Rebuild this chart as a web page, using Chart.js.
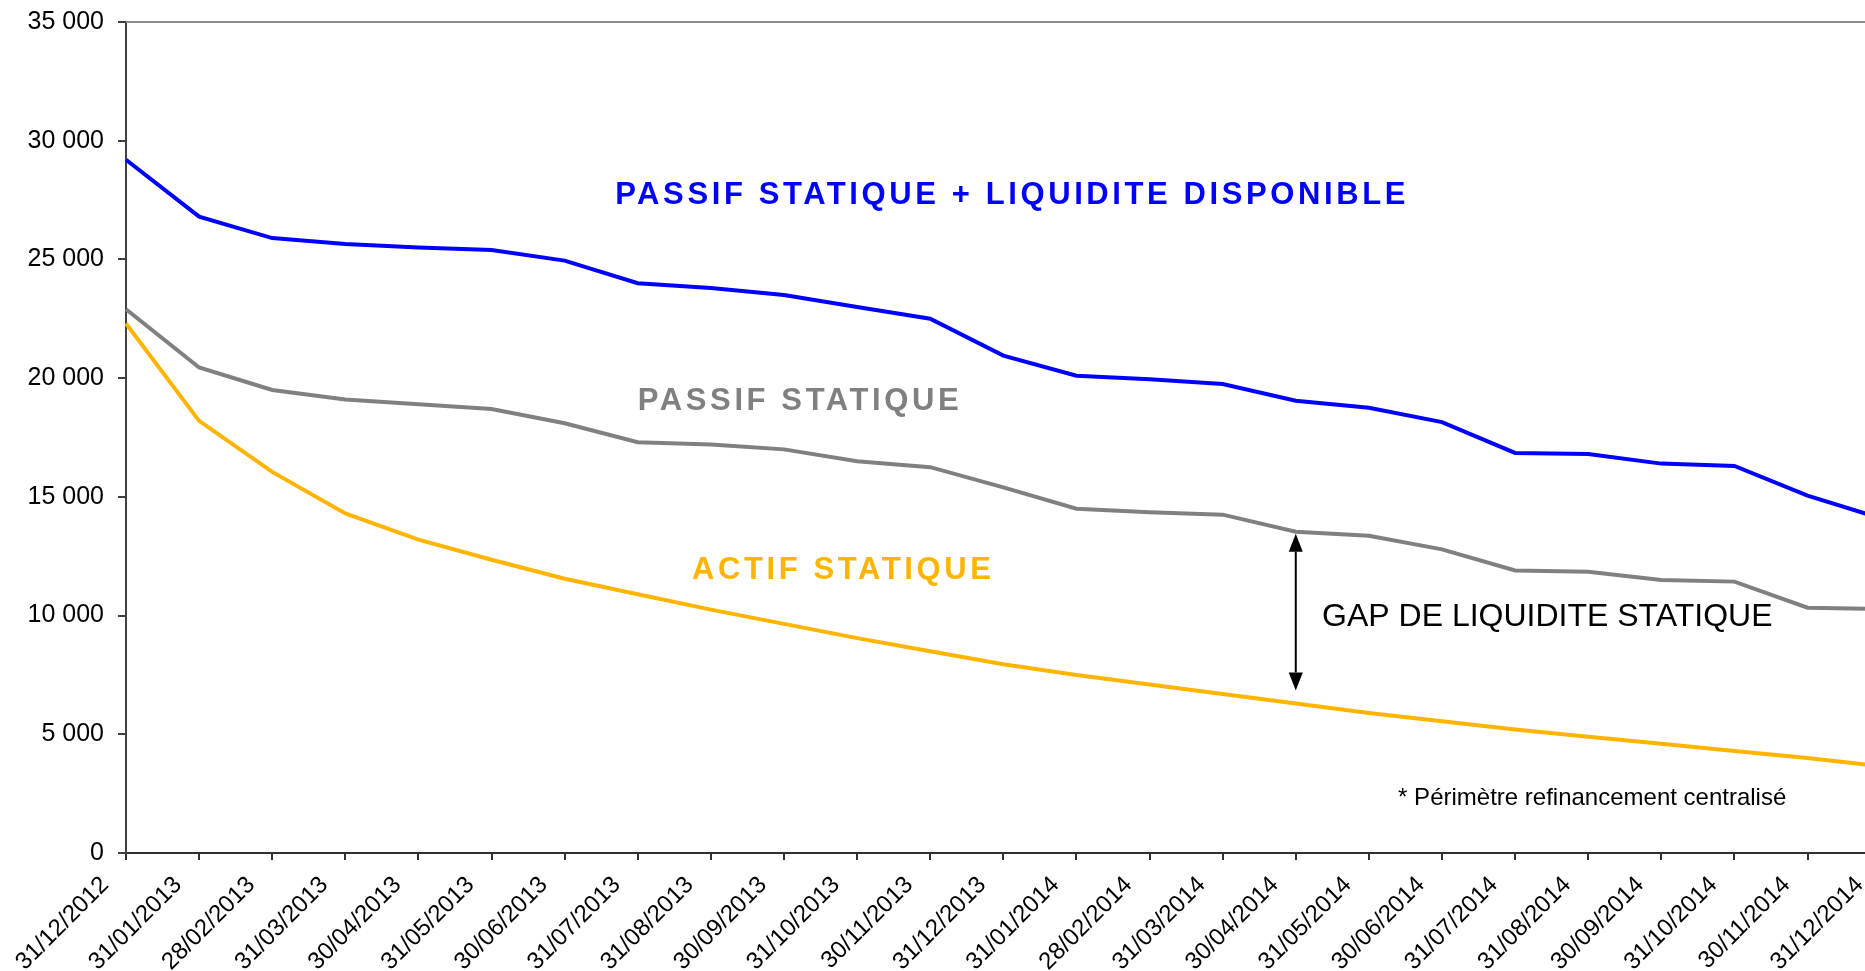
<!DOCTYPE html>
<html lang="fr">
<head>
<meta charset="utf-8">
<title>Gap de liquidité statique</title>
<script src="https://cdn.jsdelivr.net/npm/chart.js@4/dist/chart.umd.min.js"></script>
<style>
  html, body { margin: 0; padding: 0; background: #fff; overflow: hidden; }
  #wrap { position: relative; width: 1912px; height: 971px; }
</style>
</head>
<body>
<div id="wrap"><canvas id="gapChart"></canvas></div>
<script>
// Data
const dates = [
  "31/12/2012", "31/01/2013", "28/02/2013", "31/03/2013", "30/04/2013", "31/05/2013",
  "30/06/2013", "31/07/2013", "31/08/2013", "30/09/2013", "31/10/2013", "30/11/2013",
  "31/12/2013", "31/01/2014", "28/02/2014", "31/03/2014", "30/04/2014", "31/05/2014",
  "30/06/2014", "31/07/2014", "31/08/2014", "30/09/2014", "31/10/2014", "30/11/2014",
  "31/12/2014",
]

const passifLiquidite = [
  29200, 26800, 25900, 25650, 25500, 25400, 24950, 24000, 23800, 23500, 23000, 22500,
  20950, 20100, 19950, 19750, 19050, 18750, 18150, 16850, 16800, 16400, 16300, 15050, 14100,
]

const passifStatique = [
  22900, 20450, 19500, 19100, 18900, 18700, 18100, 17300, 17200, 17000, 16500, 16250,
  15400, 14500, 14350, 14250, 13530, 13360, 12790, 11900, 11850, 11500, 11430, 10330, 10280,
]

const actifStatique = [
  22300, 18200, 16050, 14300, 13200, 12350, 11550, 10900, 10250, 9650, 9050, 8500,
  7950, 7500, 7100, 6700, 6300, 5900, 5550, 5200, 4900, 4600, 4300, 4000, 3650,
]

const yTicks = [0, 5000, 10000, 15000, 20000, 25000, 30000, 35000]

const BLUE = "#0000ff"
const GREY = "#808080"
const ORANGE = "#ffb400"
const FONT = '"Liberation Sans", Arial, sans-serif'

// "35 000" style
function formatMilliers(v) {
  return String(v).replace(/\B(?=(\d{3})+(?!\d))/g, " ")
}

// Text labels placed in data space (category index, value)
const etiquettes = [
  { text: "PASSIF STATIQUE + LIQUIDITE DISPONIBLE", x: 12.12, y: 27700, color: BLUE, bold: true, align: "center" },
  { text: "PASSIF STATIQUE", x: 9.22, y: 19000, color: GREY, bold: true, align: "center" },
  { text: "ACTIF STATIQUE", x: 9.81, y: 11880, color: ORANGE, bold: true, align: "center" },
  { text: "GAP DE LIQUIDITE STATIQUE", x: 16.36, y: 9940, color: "#000", bold: false, align: "left", size: 32 },
  { text: "* Périmètre refinancement centralisé", x: 17.4, y: 2320, color: "#000", bold: false, align: "left", size: 24 },
]

// Top frame line, labels and the gap arrow
const decorPlugin = {
  id: "decor",
  afterDatasetsDraw(chart) {
    const { ctx, chartArea } = chart
    const xs = chart.scales.x
    const ys = chart.scales.y

    ctx.save()
    ctx.strokeStyle = "#8c8c8c"
    ctx.lineWidth = 2
    ctx.beginPath()
    ctx.moveTo(chartArea.left, chartArea.top)
    ctx.lineTo(chartArea.right + 30, chartArea.top)
    ctx.stroke()

    etiquettes.forEach((e) => {
      ctx.font = (e.bold ? "bold " : "") + (e.size || 31) + "px " + FONT
      ctx.letterSpacing = e.bold ? "3.6px" : "0px"
      ctx.fillStyle = e.color
      ctx.textAlign = e.align
      ctx.textBaseline = "middle"
      ctx.fillText(e.text, xs.getPixelForValue(e.x), ys.getPixelForValue(e.y))
    })

    // double arrow between passif and actif at 30/04/2014
    const i = 16
    const ax = xs.getPixelForValue(i)
    const top = ys.getPixelForValue(passifStatique[i]) + 2
    const bottom = ys.getPixelForValue(actifStatique[i]) - 13
    const head = 18
    const half = 7
    ctx.strokeStyle = "#000"
    ctx.fillStyle = "#000"
    ctx.lineWidth = 2
    ctx.beginPath()
    ctx.moveTo(ax, top + head)
    ctx.lineTo(ax, bottom - head)
    ctx.stroke()
    ctx.beginPath()
    ctx.moveTo(ax, top)
    ctx.lineTo(ax - half, top + head)
    ctx.lineTo(ax + half, top + head)
    ctx.closePath()
    ctx.fill()
    ctx.beginPath()
    ctx.moveTo(ax, bottom)
    ctx.lineTo(ax - half, bottom - head)
    ctx.lineTo(ax + half, bottom - head)
    ctx.closePath()
    ctx.fill()
    ctx.restore()
  },
}

function serie(data, color) {
  return {
    data: data,
    borderColor: color,
    backgroundColor: color,
    borderWidth: 4,
    pointRadius: 0,
    tension: 0,
    fill: false,
  }
}

document.addEventListener("DOMContentLoaded", () => {
  const ctx = document.getElementById("gapChart")
  new Chart(ctx, {
    type: "line",
    data: {
      labels: dates,
      datasets: [
        serie(passifLiquidite, BLUE),
        serie(passifStatique, GREY),
        serie(actifStatique, ORANGE),
      ],
    },
    options: {
      responsive: true,
      maintainAspectRatio: false,
      animation: false,
      events: [],
      layout: { padding: { top: 22, right: 21, left: 0, bottom: 0 } },
      plugins: {
        legend: { display: false },
        tooltip: { enabled: false },
      },
      scales: {
        x: {
          offset: false,
          afterFit: (scale) => { scale.height = 118 },
          grid: { drawOnChartArea: false, drawTicks: true, tickLength: 7, color: "#303030", lineWidth: 2 },
          border: { display: true, color: "#303030", width: 2 },
          ticks: {
            color: "#000",
            font: { family: FONT, size: 24 },
            minRotation: 45,
            maxRotation: 45,
            autoSkip: false,
            padding: 11,
            labelOffset: -21,
          },
        },
        y: {
          min: 0,
          max: 35000,
          afterFit: (scale) => {
            scale.width = 126
            scale.paddingTop = 0
            scale.paddingBottom = 0
          },
          afterBuildTicks: (scale) => { scale.ticks = yTicks.map((v) => ({ value: v })) },
          grid: { drawOnChartArea: false, drawTicks: true, tickLength: 8, color: "#404040", lineWidth: 2 },
          border: { display: true, color: "#404040", width: 2 },
          ticks: {
            color: "#000",
            font: { family: FONT, size: 25 },
            padding: 14,
            callback: (v) => formatMilliers(v),
          },
        },
      },
    },
    plugins: [decorPlugin],
  })
})
</script>
</body>
</html>
